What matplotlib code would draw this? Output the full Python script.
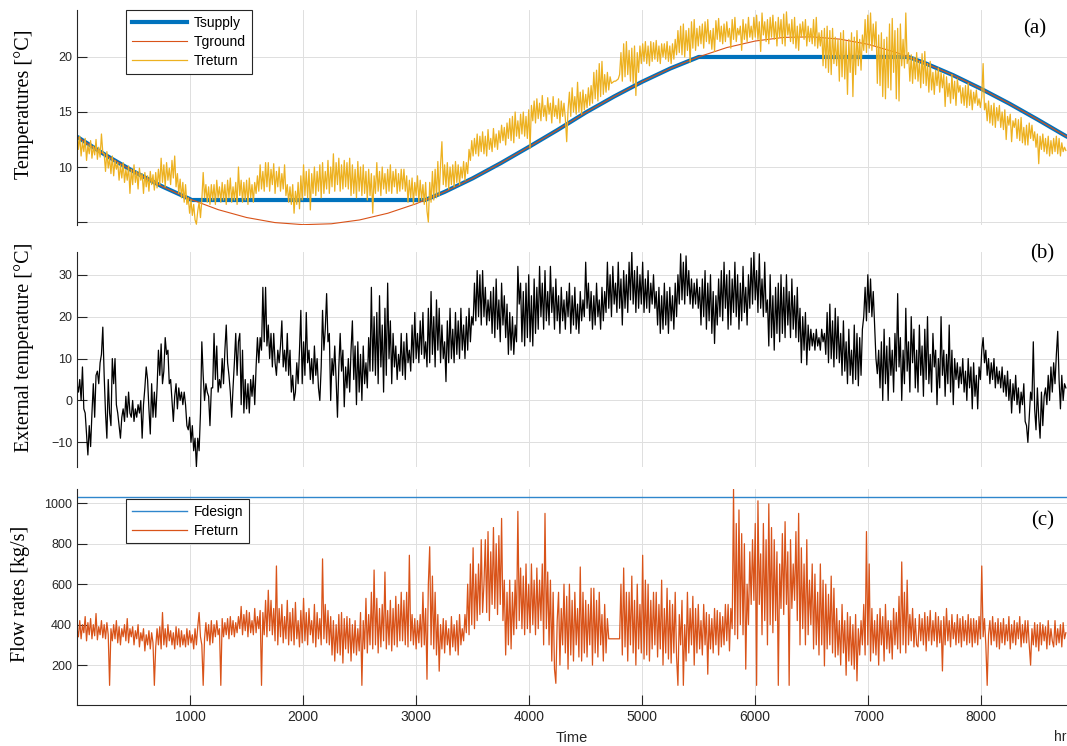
import numpy as np
import matplotlib
matplotlib.use('Agg')
import matplotlib.pyplot as plt

###############################################################################
# DATA
###############################################################################

# ground temperature, smooth yearly curve [degC]
tground_hr = [0, 250, 500, 750, 1000, 1250, 1500, 1750, 2000, 2250, 2500, 2750,
              3000, 3250, 3500, 3750, 4000, 4250, 4500, 4750, 5000, 5250, 5500,
              5750, 6000, 6250, 6500, 6750, 7000, 7250, 7500, 7750, 8000, 8250,
              8500, 8750, 8760]
tground = [12.75, 11.1, 9.6, 8.25, 7.08, 6.12, 5.41, 4.95, 4.76, 4.84, 5.19, 5.8,
           6.66, 7.73, 8.97, 10.36, 11.84, 13.36, 14.95, 16.4, 17.75, 18.96, 20.01,
           20.86, 21.45, 21.78, 21.83, 21.62, 21.15, 20.4, 19.45, 18.35, 17.1, 15.75,
           14.3, 12.8, 12.75]

# supply temperature (ground temperature held between 7 and 20 degC)
tsupply_hr = [0, 250, 500, 750, 1000, 1010, 3080, 3250, 3500, 3750, 4000, 4250,
              4500, 4750, 5000, 5250, 5500, 7355, 7500, 7750, 8000, 8250, 8500,
              8750, 8760]
tsupply = [12.75, 11.1, 9.6, 8.25, 7.08, 7.0, 7.0, 7.73, 8.97, 10.36, 11.84, 13.36,
           14.95, 16.4, 17.75, 18.96, 20.0, 20.0, 19.45, 18.35, 17.1, 15.75, 14.3,
           12.8, 12.75]

# return temperature, one value every 12 h [degC]
treturn = [
    13.3, 11.6, 12.8, 11.0, 12.3, 11.4, 12.6, 10.6, 12.0, 11.2, 12.4, 10.8, 11.9, 11.1, 12.5, 10.7, 11.8, 10.9, 13.0, 11.3,
    11.2, 9.6, 11.4, 9.9, 10.8, 9.4, 11.0, 9.2, 10.6, 9.8, 10.4, 8.8, 10.2, 9.0, 10.4, 8.6, 9.8, 8.8, 10.1, 7.6,
    9.8, 8.4, 10.2, 8.6, 9.6, 8.0, 9.9, 8.8, 9.4, 7.6, 9.5, 8.2, 9.2, 7.8, 9.6, 8.4, 9.3, 7.9, 9.5, 8.1,
    9.8, 8.4, 10.8, 8.6, 10.2, 8.2, 10.4, 8.8, 9.9, 8.4, 10.6, 9.0, 11.0, 8.2, 9.4, 7.6, 8.9, 7.2, 8.6, 6.8,
    8.4, 6.6, 7.2, 5.8, 7.0, 5.6, 6.6, 5.2, 4.8, 6.0, 6.8, 5.4, 7.0, 9.5, 7.2, 8.4, 6.8, 8.2, 6.6, 8.4,
    7.0, 8.4, 6.6, 8.8, 7.2, 8.2, 6.8, 8.6, 7.0, 8.4, 6.6, 8.8, 7.2, 9.0, 6.8, 8.2, 7.0, 8.6, 6.6, 10.0,
    7.4, 8.8, 6.8, 8.6, 7.0, 8.8, 6.6, 9.0, 7.2, 8.4, 6.8, 8.6, 7.6, 9.2, 7.8, 10.2, 8.0, 9.6, 7.8, 10.4,
    8.2, 10.4, 7.8, 9.8, 8.4, 10.3, 7.6, 9.6, 8.2, 10.0, 7.8, 9.4, 8.0, 10.2, 7.4, 8.4, 6.8, 8.2, 6.6, 8.4,
    5.8, 7.8, 6.6, 8.6, 6.2, 9.2, 7.0, 10.2, 7.4, 9.6, 7.2, 9.8, 6.1, 9.4, 7.6, 10.0, 7.4, 9.6, 7.8, 10.2,
    7.2, 10.4, 7.6, 9.6, 8.0, 10.6, 7.6, 10.0, 8.2, 11.2, 7.8, 10.4, 8.4, 10.8, 7.8, 10.2, 8.0, 10.6, 8.2, 10.4,
    8.0, 10.8, 7.4, 10.2, 7.6, 9.8, 7.2, 10.5, 7.8, 10.0, 7.4, 10.2, 7.6, 9.6, 7.0, 9.8, 7.4, 9.4, 5.8, 9.2,
    7.6, 10.4, 7.8, 9.6, 7.4, 10.0, 8.0, 9.4, 7.6, 9.8, 7.8, 10.2, 7.6, 9.6, 8.2, 9.8, 7.6, 9.4, 7.8, 9.8,
    8.0, 9.8, 7.8, 9.2, 6.8, 8.8, 7.2, 9.0, 6.6, 8.6, 7.4, 9.2, 6.8, 8.8, 7.0, 8.4, 6.6, 8.6, 6.0, 5.0,
    8.6, 6.8, 9.6, 7.0, 9.8, 7.2, 10.5, 7.4, 10.2, 12.3, 8.4, 10.2, 8.2, 10.4, 8.0, 10.0, 8.4, 10.2, 8.2, 10.5,
    8.6, 10.2, 8.4, 10.0, 9.0, 10.5, 8.8, 10.4, 9.4, 11.6, 10.6, 12.4, 11.0, 12.6, 11.2, 13.0, 11.0, 12.8, 11.4, 13.2,
    11.2, 12.8, 11.0, 13.4, 11.6, 12.6, 11.4, 13.5, 11.8, 13.0, 11.6, 13.3, 12.2, 13.8, 12.4, 13.6, 12.0, 14.0, 12.6, 14.4,
    12.4, 14.6, 12.2, 15.0, 12.8, 14.2, 12.6, 14.8, 13.0, 15.0, 12.8, 14.6, 12.6, 15.2, 11.7, 15.6, 14.2, 16.0, 14.0, 16.2,
    14.4, 15.8, 14.2, 16.5, 14.6, 15.6, 14.2, 16.3, 14.8, 15.8, 14.0, 16.4, 14.6, 15.6, 14.4, 16.2, 14.0, 16.0, 14.6, 15.8,
    14.4, 12.3, 15.2, 16.8, 14.6, 17.2, 15.0, 16.4, 14.8, 17.7, 15.0, 16.8, 14.8, 17.0, 15.2, 16.6, 15.4, 17.2, 15.6, 17.4,
    15.8, 18.6, 16.2, 18.8, 16.0, 19.4, 16.4, 19.6, 16.6, 18.4, 16.8, 18.6, 17.0, 18.2, 17.6, 17.7, 17.8, 17.8, 17.9, 18.0,
    18.4, 20.4, 17.8, 21.2, 18.2, 21.4, 18.4, 20.6, 17.8, 20.8, 17.6, 21.0, 16.5, 20.4, 18.6, 21.0, 19.4, 21.2, 19.6, 21.4,
    19.4, 21.0, 19.2, 21.4, 19.6, 21.3, 19.8, 21.5, 19.6, 21.0, 19.4, 21.2, 20.0, 21.2, 19.8, 21.4, 19.6, 21.0, 19.4, 21.2,
    19.8, 21.6, 20.2, 22.4, 20.4, 22.8, 20.2, 23.0, 20.0, 22.4, 20.6, 22.6, 19.5, 23.2, 20.8, 23.4, 20.6, 22.6, 21.0, 22.8,
    21.2, 23.0, 20.8, 23.2, 21.4, 23.4, 21.2, 22.4, 20.7, 22.6, 20.5, 23.3, 21.6, 23.5, 21.4, 22.8, 21.2, 23.0, 21.4, 23.2,
    21.8, 22.6, 20.8, 23.4, 21.6, 23.6, 21.4, 22.6, 22.0, 22.8, 20.6, 23.4, 21.6, 23.0, 21.4, 23.6, 21.8, 22.8, 21.6, 23.6,
    21.8, 23.8, 21.6, 23.2, 20.5, 24.0, 22.0, 23.2, 21.4, 23.4, 21.2, 23.6, 21.8, 23.8, 21.6, 23.2, 21.0, 23.6, 21.8, 23.4,
    21.2, 23.9, 21.0, 24.1, 22.0, 23.0, 21.4, 23.4, 21.2, 23.6, 20.8, 22.8, 20.6, 23.0, 21.8, 23.2, 21.6, 23.4, 21.0, 22.8,
    21.4, 22.6, 21.2, 23.4, 21.0, 23.6, 20.8, 22.2, 21.0, 22.4, 19.2, 22.6, 19.0, 22.8, 18.6, 22.4, 18.4, 22.6, 19.4, 21.8,
    19.2, 21.6, 17.8, 22.2, 18.2, 22.4, 18.0, 21.4, 16.6, 21.6, 18.6, 22.2, 16.4, 21.8, 18.4, 22.4, 19.2, 21.6, 18.8, 22.0,
    20.6, 23.4, 20.4, 23.8, 20.8, 24.0, 20.6, 23.0, 21.0, 23.2, 17.6, 22.0, 17.4, 22.2, 16.4, 21.6, 16.2, 21.8, 17.2, 23.0,
    17.0, 23.5, 18.6, 22.4, 16.2, 22.6, 16.0, 23.0, 19.2, 21.6, 19.0, 24.0, 19.4, 20.4, 17.8, 20.2, 17.6, 20.0, 18.0, 20.4,
    17.8, 19.6, 17.2, 20.3, 17.6, 20.5, 17.4, 19.4, 16.8, 19.6, 17.0, 18.6, 16.6, 18.8, 17.4, 19.0, 16.8, 18.6, 17.2, 18.4,
    15.5, 18.2, 16.4, 17.6, 15.8, 18.4, 16.2, 17.8, 15.6, 18.0, 16.8, 17.4, 15.8, 17.2, 15.6, 17.4, 15.4, 17.6, 15.6, 17.0,
    15.2, 16.8, 15.8, 17.0, 15.6, 16.2, 15.4, 16.4, 19.4, 15.2, 15.8, 14.2, 16.0, 14.0, 15.6, 13.8, 15.8, 13.6, 15.4, 14.2,
    15.6, 13.6, 15.0, 13.4, 15.2, 12.5, 14.6, 13.8, 14.8, 12.3, 14.2, 13.6, 14.4, 12.6, 14.3, 12.4, 14.5, 12.2, 13.6, 12.0,
    13.8, 12.0, 14.0, 12.6, 13.8, 12.4, 13.2, 11.8, 13.0, 10.3, 12.8, 11.6, 13.0, 11.4, 12.6, 11.2, 12.8, 11.0, 12.4, 11.2,
    12.6, 11.4, 12.8, 11.2, 12.6, 11.0, 12.2, 11.4, 11.8, 11.5,
]

# external temperature, one value every 12 h [degC]
text_ext = [
    4, 2, 5, 0, 8, -2, -3, -8, -13, -6, -11, -3, 4, -4, 6, 7, 4, 9, 11, 17.5,
    6, -3, -9, 5, -3, -6, 10, 4, 10, -1, -3, -6, -9, -4, -2, -5, 1, -4, 2, -3,
    -4, 0, -5, -2, -4, -1, -3, 0, -9, -1, 3, 8, 5, -2, -8, 4, -4, 2, -4, 3,
    12, 6, 13.5, 4, 7, 15, 11, 12, 4, 5, 0, -5, 1, 4, -2, 3, 0, 2, -1, 2,
    -1, -6, -7, -4, -10, -6, -12, -9, -15.8, -9, -12, -3, 14, 6, 0, 4, 2, 1, -6, 3,
    3, 16, 5, 13, 2, 5, 3, 10, 4, 12, 18, 9, 6, 2, -4, 3, 9, 16, 6, 14,
    16, -1, 12, -3, 5, -2, 4, -3, 5, 1, 6, -1, 8, 15, 9, 15, 12, 27, 14, 27,
    13, 18, 10, 16, 8, 16, 9, 6, 12, 9, 13, 19, 8, 12, 7, 16, 6, 12, 2, 6,
    0, 2, 9, 4, 12, 21.5, 4, 14, 6, 21, 9, 12, 5, 10, 4, 13, 6, 10, 3, 0,
    8, 21.5, 12, 17, 25.5, 14, 16, 0, 10, 6, 13, 5, -4, 8, 16, 7, 12, -1.5, 8, 3,
    10, 2, 12, 19, 5, 13, -1, 14, 2, 11, 0, 13, 4, 9, 3, 15, 7, 27, 7, 20,
    6, 21, 4, 25, 8, 18, 2, 22, 6, 28, 10, 19, 4, 16, 8, 13, 5, 11, 7, 16,
    6, 14, 5, 16, 9, 12, 7, 18, 9, 21, 10, 16, 9, 19, 11, 21, 10, 14, 8, 22,
    9, 26, 11, 20, 8, 24, 12, 22, 9, 18, 10, 14, 4.5, 19, 9, 22, 10, 17, 9, 21,
    11, 19, 10, 22, 12, 18, 10, 20, 12, 22, 14, 20, 18, 28, 19, 31, 20, 30, 18, 31,
    20, 27, 18, 24, 19, 26, 16, 27, 15, 29, 17, 24, 14, 28, 18, 25, 15, 23, 11, 21,
    12, 20, 11, 18, 14, 32, 23, 28, 14, 26, 13, 28, 15, 30, 14, 25, 13, 29, 16, 27,
    17, 32, 20, 28, 17, 31, 19, 26, 18, 32, 21, 27, 17, 29, 19, 25, 16, 27, 19, 24,
    17, 26, 20, 28, 16, 25, 18, 27, 17, 23, 16, 26, 19, 24, 20, 33, 22, 28, 19, 26,
    17, 25, 18, 28, 20, 24, 17, 27, 19, 26, 21, 33, 22, 30, 20, 32, 23, 28, 21, 33,
    22, 29, 18, 31, 22, 30, 21, 33, 24, 35.5, 23, 31, 21, 32, 22, 30, 23, 33, 21, 29,
    22, 31, 21, 28, 23, 30, 22, 26, 18, 27, 16, 25, 17, 28, 18, 26, 16, 27, 19, 25,
    17, 28, 20, 30, 23, 35, 24, 33, 23, 34.5, 25, 31, 23, 29, 22, 28, 23, 29, 22, 27,
    18, 29, 20, 31, 17, 28, 19, 30, 16, 26, 13.6, 25, 18, 29, 20, 31, 19, 33, 22, 30,
    17, 31, 18, 29, 21, 33, 20, 30, 17, 28, 19, 32, 21, 27, 18, 30, 22, 34, 23, 35.5,
    24, 31, 21, 35, 22, 29, 20, 33, 21, 24, 13, 30, 15, 25, 12, 27, 16, 28, 14, 30,
    16, 27, 15, 30, 18, 26, 15, 29, 17, 25, 15, 27, 14, 22, 9, 20, 12, 21, 8.5, 18,
    12, 17, 13, 16, 12, 17, 13, 15, 12, 17, 14, 16, 11, 21, 9, 23, 10, 19, 8, 22,
    10, 20, 9, 16, 6, 19, 7, 14, 4, 17, 6, 12, 4, 18, 5, 16, 3.5, 15, 6, 17,
    20, 27, 19, 30, 21, 29, 20, 26, 18, 10, 6.4, 12, 3, 14, 0, 17, 4, 13, 0, 15,
    6, 12, 2, 16, 7, 25.5, 8, 15, 0, 12, 4, 22, 7, 14, 2, 20, 9, 17, 3, 12,
    2, 18, 6, 13, 1, 17, 5, 20, 4, 11, 2, 16, 8, 12, -1, 10, 3, 20, 6, 12,
    1, 11, 4, 18, 2, 12, -1, 10, 5, 9, 3, 8, 4, 10, 2, 7, 0, 10, 3, 8,
    -2, 9, 1, 6, -2, 8, 5, 12, 15, 9, 12, 6, 10, 4, 9, 5, 10, 3, 8, 4,
    7, 3, 8, 2, 6, 1, 7, 0, 5, -3, 4, 0, 6, -1, 3, -3, 2, -1, 4, -5,
    -6, -10, -4, 2, 0, 14, -2, -7, 3, -4, -9, 2, -6, 1, 3, -1, 6, 0, 8, 2,
    9, 4, 11, 16.5, 5, -2, 6, 0, 4, 3,
]

# design flow (constant) and return flow, one value every 12 h [kg/s]
fdesign_hr = [0, 8760]
fdesign = [1030, 1030]

freturn = [
    380, 340, 420, 330, 400, 360, 440, 320, 410, 350, 430, 330, 400, 345, 455, 325, 390, 350, 420, 335,
    400, 330, 410, 350, 100, 380, 320, 400, 330, 420, 310, 390, 300, 380, 340, 400, 320, 430, 310, 380,
    340, 390, 300, 370, 330, 400, 290, 360, 320, 380, 270, 350, 300, 370, 280, 360, 310, 100, 290, 380,
    300, 390, 280, 460, 300, 380, 290, 400, 320, 370, 300, 360, 280, 390, 300, 380, 290, 370, 300, 350,
    290, 380, 300, 370, 310, 350, 280, 380, 300, 390, 460, 340, 300, 100, 330, 410, 320, 400, 300, 420,
    310, 400, 340, 420, 350, 380, 100, 430, 340, 410, 350, 430, 330, 440, 350, 420, 340, 410, 360, 440,
    380, 490, 350, 450, 370, 470, 340, 460, 360, 420, 350, 480, 360, 440, 380, 470, 100, 460, 350, 520,
    340, 570, 370, 520, 350, 480, 320, 690, 300, 480, 340, 500, 310, 440, 330, 520, 300, 460, 320, 480,
    300, 510, 330, 420, 290, 470, 310, 530, 320, 460, 300, 480, 350, 420, 310, 500, 290, 460, 330, 430,
    300, 725, 330, 500, 310, 470, 300, 440, 250, 420, 220, 400, 260, 450, 250, 460, 210, 430, 280, 440,
    260, 430, 220, 400, 260, 420, 250, 380, 270, 460, 100, 420, 280, 530, 260, 450, 300, 560, 280, 670,
    300, 530, 260, 480, 290, 500, 320, 660, 280, 470, 300, 520, 270, 480, 300, 540, 290, 500, 320, 560,
    320, 520, 300, 560, 290, 743, 320, 450, 300, 430, 280, 420, 310, 450, 290, 560, 300, 480, 130, 600,
    785, 300, 640, 280, 560, 250, 450, 170, 400, 280, 430, 260, 420, 300, 380, 250, 440, 290, 400, 270,
    420, 250, 450, 300, 380, 320, 450, 360, 600, 350, 700, 400, 780, 380, 650, 420, 700, 450, 820, 460,
    600, 820, 460, 860, 420, 760, 500, 880, 480, 800, 450, 840, 500, 925, 420, 620, 250, 560, 300, 620,
    280, 560, 350, 620, 380, 960, 420, 680, 380, 640, 350, 700, 380, 600, 360, 700, 400, 620, 350, 680,
    380, 620, 420, 700, 300, 950, 380, 660, 300, 620, 220, 560, 180, 110, 420, 560, 200, 480, 300, 600,
    260, 540, 180, 600, 250, 520, 220, 560, 300, 480, 240, 685, 220, 560, 260, 520, 240, 500, 300, 580,
    200, 580, 260, 520, 240, 560, 300, 450, 220, 500, 260, 430, 330, 330, 330, 330, 330, 330, 330, 330,
    330, 600, 250, 680, 290, 560, 220, 560, 300, 640, 260, 520, 200, 600, 280, 500, 260, 743, 230, 620,
    250, 600, 220, 520, 280, 560, 300, 560, 240, 500, 280, 620, 200, 480, 260, 580, 230, 520, 210, 500,
    260, 560, 240, 100, 450, 300, 520, 100, 400, 220, 560, 260, 480, 300, 540, 200, 480, 260, 500, 280,
    420, 250, 500, 300, 460, 155, 450, 280, 430, 260, 480, 300, 470, 250, 460, 290, 440, 300, 500, 320,
    500, 270, 480, 380, 1069, 350, 900, 330, 967, 400, 850, 350, 800, 180, 600, 400, 760, 500, 820, 520,
    900, 100, 1012, 500, 750, 350, 900, 420, 820, 300, 997, 400, 880, 360, 820, 420, 760, 100, 700, 480,
    850, 450, 909, 500, 760, 100, 820, 480, 700, 520, 860, 420, 950, 300, 780, 380, 700, 300, 820, 350,
    620, 400, 700, 280, 650, 300, 560, 250, 700, 300, 620, 196, 600, 280, 550, 300, 640, 260, 580, 240,
    480, 250, 420, 200, 500, 260, 420, 150, 460, 220, 440, 200, 400, 180, 450, 122, 380, 250, 420, 300,
    500, 250, 860, 300, 700, 220, 480, 260, 420, 250, 450, 200, 480, 300, 440, 220, 500, 280, 420, 260,
    420, 230, 480, 300, 460, 280, 540, 260, 710, 300, 560, 260, 620, 300, 450, 320, 480, 290, 430, 300,
    290, 450, 320, 430, 300, 460, 270, 440, 320, 470, 300, 420, 320, 460, 290, 440, 310, 420, 171, 440,
    300, 480, 320, 420, 290, 450, 330, 410, 300, 450, 310, 430, 290, 440, 320, 420, 300, 450, 310, 430,
    290, 430, 310, 420, 300, 440, 330, 690, 340, 430, 300, 100, 350, 420, 300, 440, 320, 410, 290, 430,
    280, 410, 310, 430, 300, 400, 320, 440, 280, 400, 310, 420, 300, 410, 330, 440, 290, 400, 310, 420,
    310, 420, 300, 200, 380, 300, 410, 290, 400, 270, 410, 300, 400, 320, 390, 280, 420, 300, 380, 320,
    290, 420, 300, 380, 310, 400, 290, 410, 330, 360,
]

treturn_hr = 12 * np.arange(len(treturn))
text_hr = 12 * np.arange(len(text_ext))
freturn_hr = 12 * np.arange(len(freturn))

###############################################################################
# FIGURE SETTINGS
###############################################################################

SERIF = 'Liberation Serif'
SANS = 'Liberation Sans'
plt.rcParams['font.family'] = SANS

C_BLUE = '#0072BD'
C_RED = '#D95319'
C_YELLOW = '#EDB120'
C_AXIS = '#262626'
C_GRID = '#dfdfdf'

fig = plt.figure(figsize=(10.67, 7.46), dpi=100)
ax1 = fig.add_axes([0.0722, 0.6984, 0.928, 0.2882])
ax2 = fig.add_axes([0.0722, 0.3744, 0.928, 0.2882])
ax3 = fig.add_axes([0.0722, 0.0550, 0.928, 0.2891])

for ax in (ax1, ax2, ax3):
    ax.set_xlim(0, 8760)
    ax.set_xticks(range(1000, 9000, 1000))
    ax.grid(True, color=C_GRID, lw=0.7)
    ax.set_axisbelow(True)
    ax.spines['top'].set_visible(False)
    ax.spines['right'].set_visible(False)
    ax.spines['left'].set_color(C_AXIS)
    ax.spines['left'].set_linewidth(0.8)
    ax.tick_params(axis='y', direction='in', length=7, width=0.8,
                   colors=C_AXIS, labelsize=9)

for ax in (ax1, ax2):
    ax.spines['bottom'].set_visible(False)
    ax.tick_params(axis='x', length=0, labelbottom=False)

ax3.spines['bottom'].set_color(C_AXIS)
ax3.spines['bottom'].set_linewidth(0.8)
ax3.tick_params(axis='x', direction='in', length=7.5, width=0.8,
                colors=C_AXIS, labelsize=10)

leg_kw = dict(loc='upper left', fontsize=10, handlelength=4,
              handletextpad=0.5, borderpad=0.4, labelspacing=0.38,
              borderaxespad=0, fancybox=False, framealpha=1,
              edgecolor=C_AXIS)

###############################################################
#    (a) TEMPERATURES
###############################################################

ax1.plot(tsupply_hr, tsupply, color=C_BLUE, lw=3, label='Tsupply')
ax1.plot(tground_hr, tground, color=C_RED, lw=0.8, label='Tground')
ax1.plot(treturn_hr, treturn, color=C_YELLOW, lw=0.9, label='Treturn')

ax1.set_ylim(4.73, 24.27)
ax1.set_yticks([5, 10, 15, 20])
ax1.set_yticklabels(['', '10', '15', '20'])
ax1.set_ylabel('Temperatures [°C]', family=SERIF, fontsize=14.5)
ax1.yaxis.set_label_coords(-0.043, 0.56)
lg = ax1.legend(bbox_to_anchor=(0.0495, 1.0), **leg_kw)
lg.get_frame().set_linewidth(0.8)
ax1.text(0.967, 0.912, '(a)', transform=ax1.transAxes, family=SERIF,
         fontsize=15, ha='center', va='center')

###############################################################
#    (b) EXTERNAL TEMPERATURE
###############################################################

ax2.plot(text_hr, text_ext, color='black', lw=0.9)

ax2.set_ylim(-15.8, 35.5)
ax2.set_yticks([-10, 0, 10, 20, 30])
ax2.set_ylabel('External temperature [°C]', family=SERIF, fontsize=14.5)
ax2.yaxis.set_label_coords(-0.043, 0.555)
ax2.text(0.975, 0.99, '(b)', transform=ax2.transAxes, family=SERIF,
         fontsize=15, ha='center', va='center')

###############################################################
#    (c) FLOW RATES
###############################################################

ax3.plot(fdesign_hr, fdesign, color='#2f86cc', lw=1, label='Fdesign')
ax3.plot(freturn_hr, freturn, color=C_RED, lw=0.9, label='Freturn')

ax3.set_ylim(3, 1069)
ax3.set_yticks([200, 400, 600, 800, 1000])
ax3.set_ylabel('Flow rates [kg/s]', family=SERIF, fontsize=14.5)
ax3.yaxis.set_label_coords(-0.048, 0.515)
ax3.set_xlabel('Time', fontsize=10.5, color=C_AXIS, labelpad=5)
lg = ax3.legend(bbox_to_anchor=(0.0495, 0.955), **leg_kw)
lg.get_frame().set_linewidth(0.8)
ax3.text(0.975, 0.853, '(c)', transform=ax3.transAxes, family=SERIF,
         fontsize=15, ha='center', va='center')
fig.text(1060 / 1067, 1 - 737 / 746, 'hr', fontsize=10, color=C_AXIS,
         ha='center', va='center')

plt.savefig('out.png', dpi=100)
